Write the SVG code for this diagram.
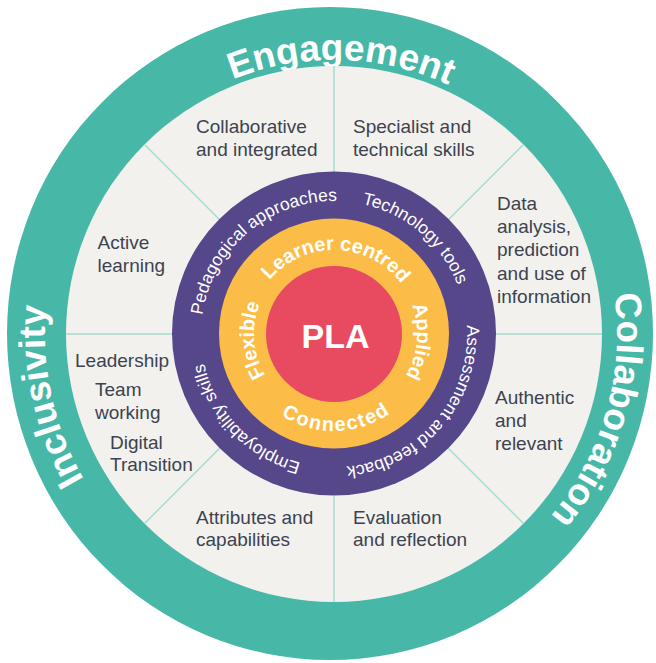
<svg xmlns="http://www.w3.org/2000/svg" width="656" height="663" viewBox="0 0 656 663">
  <style>
    .sector { font-family: "Liberation Sans", Arial, sans-serif; font-size: 19px; fill: #3c4350; }
    .outer-lbl { font-family: "Liberation Sans", Arial, sans-serif; font-size: 37px; font-weight: bold; fill: #ffffff; }
    .mid-lbl { font-family: "Liberation Sans", Arial, sans-serif; font-size: 17.5px; fill: #ffffff; }
    .inner-lbl { font-family: "Liberation Sans", Arial, sans-serif; font-size: 20px; font-weight: bold; fill: #ffffff; }
    .core-lbl { font-family: "Liberation Sans", Arial, sans-serif; font-size: 34px; font-weight: bold; fill: #ffffff; }
    .divider { stroke: #a3dbcf; stroke-width: 1.4; fill: none; }
  </style>
  <defs>
    <path id="p-eng" d="M65.5,279.4 A274,274 0 0 1 605.0,293.5"/>
    <path id="p-col" d="M458.1,79.6 A283,283 0 0 1 304.4,615.4"/>
    <path id="p-inc" d="M345.6,622.8 A289,289 0 0 1 224.3,66.6"/>
    <path id="p-ped" d="M219.2,401.1 A133,133 0 0 1 419.0,231.7"/>
    <path id="p-tec" d="M249.0,231.7 A133,133 0 0 1 448.9,401.0"/>
    <path id="p-ass" d="M436.6,249.3 A133,133 0 0 1 266.6,448.7"/>
    <path id="p-emp" d="M408.7,444.1 A133,133 0 0 1 226.2,256.1"/>
    <path id="p-lea" d="M251.7,317.3 A84,84 0 0 1 417.1,321.6"/>
    <path id="p-app" d="M355.5,253.8 A83,83 0 0 1 341.2,416.7"/>
    <path id="p-fle" d="M326.3,413.6 A80,80 0 0 1 314.0,256.5"/>
    <path id="p-con" d="M238.9,353.3 A97,97 0 0 0 429.9,348.3"/>
  </defs>

  <rect x="0" y="0" width="656" height="663" fill="#ffffff"/>

  <g id="outer-ring">
    <ellipse cx="330" cy="333.5" rx="323" ry="326.5" fill="#47b8a8"/>
    <text class="outer-lbl"><textPath href="#p-eng" startOffset="50%" text-anchor="middle">Engagement</textPath></text>
    <text class="outer-lbl"><textPath href="#p-col" startOffset="50%" text-anchor="middle">Collaboration</textPath></text>
    <text class="outer-lbl"><textPath href="#p-inc" startOffset="50%" text-anchor="middle">Inclusivity</textPath></text>
  </g>

  <g id="sector-ring">
    <circle cx="334" cy="334" r="268" fill="#f2f1ee"/>
  </g>

  <g id="connectors">
    <line class="divider" x1="334" y1="66" x2="334" y2="172"/>
    <line class="divider" x1="334" y1="496" x2="334" y2="602"/>
    <line class="divider" x1="66" y1="334" x2="172" y2="334"/>
    <line class="divider" x1="496" y1="334" x2="602" y2="334"/>
    <line class="divider" x1="144.5" y1="144.5" x2="219.4" y2="219.4"/>
    <line class="divider" x1="523.5" y1="144.5" x2="448.6" y2="219.4"/>
    <line class="divider" x1="144.5" y1="523.5" x2="219.4" y2="448.6"/>
    <line class="divider" x1="523.5" y1="523.5" x2="448.6" y2="448.6"/>
  </g>

  <g id="sector-collaborative">
    <text class="sector" x="196" y="133">Collaborative</text>
    <text class="sector" x="196" y="156">and integrated</text>
  </g>
  <g id="sector-specialist">
    <text class="sector" x="353" y="133">Specialist and</text>
    <text class="sector" x="353" y="156">technical skills</text>
  </g>
  <g id="sector-data">
    <text class="sector" x="497" y="210">Data</text>
    <text class="sector" x="497" y="233">analysis,</text>
    <text class="sector" x="497" y="256">prediction</text>
    <text class="sector" x="497" y="279.5">and use of</text>
    <text class="sector" x="497" y="302.5">information</text>
  </g>
  <g id="sector-authentic">
    <text class="sector" x="495" y="404">Authentic</text>
    <text class="sector" x="495" y="427">and</text>
    <text class="sector" x="495" y="450">relevant</text>
  </g>
  <g id="sector-evaluation">
    <text class="sector" x="353" y="523.5">Evaluation</text>
    <text class="sector" x="353" y="546">and reflection</text>
  </g>
  <g id="sector-attributes">
    <text class="sector" x="196" y="523.5">Attributes and</text>
    <text class="sector" x="196" y="546">capabilities</text>
  </g>
  <g id="sector-leadership">
    <text class="sector" x="75" y="367">Leadership</text>
    <text class="sector" x="95" y="396">Team</text>
    <text class="sector" x="95" y="419">working</text>
    <text class="sector" x="110" y="449">Digital</text>
    <text class="sector" x="110" y="471">Transition</text>
  </g>
  <g id="sector-active">
    <text class="sector" x="97.5" y="249">Active</text>
    <text class="sector" x="97.5" y="272">learning</text>
  </g>

  <g id="middle-ring">
    <circle cx="334" cy="333.5" r="162" fill="#55478a"/>
    <text class="mid-lbl"><textPath href="#p-ped" startOffset="50%" text-anchor="middle">Pedagogical approaches</textPath></text>
    <text class="mid-lbl"><textPath href="#p-tec" startOffset="50%" text-anchor="middle">Technology tools</textPath></text>
    <text class="mid-lbl"><textPath href="#p-ass" startOffset="50%" text-anchor="middle">Assessment and feedback</textPath></text>
    <text class="mid-lbl"><textPath href="#p-emp" startOffset="50%" text-anchor="middle">Employability skills</textPath></text>
  </g>

  <g id="inner-ring">
    <circle cx="334" cy="333.5" r="115" fill="#fbbd47"/>
    <text class="inner-lbl"><textPath href="#p-lea" startOffset="50%" text-anchor="middle">Learner centred</textPath></text>
    <text class="inner-lbl"><textPath href="#p-app" startOffset="50%" text-anchor="middle">Applied</textPath></text>
    <text class="inner-lbl"><textPath href="#p-fle" startOffset="50%" text-anchor="middle">Flexible</textPath></text>
    <text class="inner-lbl" letter-spacing="1.5"><textPath href="#p-con" startOffset="50%" text-anchor="middle">Connected</textPath></text>
  </g>

  <g id="core">
    <circle cx="334" cy="334" r="68" fill="#e84b5f"/>
    <text class="core-lbl" x="335.5" y="348" text-anchor="middle">PLA</text>
  </g>
</svg>
